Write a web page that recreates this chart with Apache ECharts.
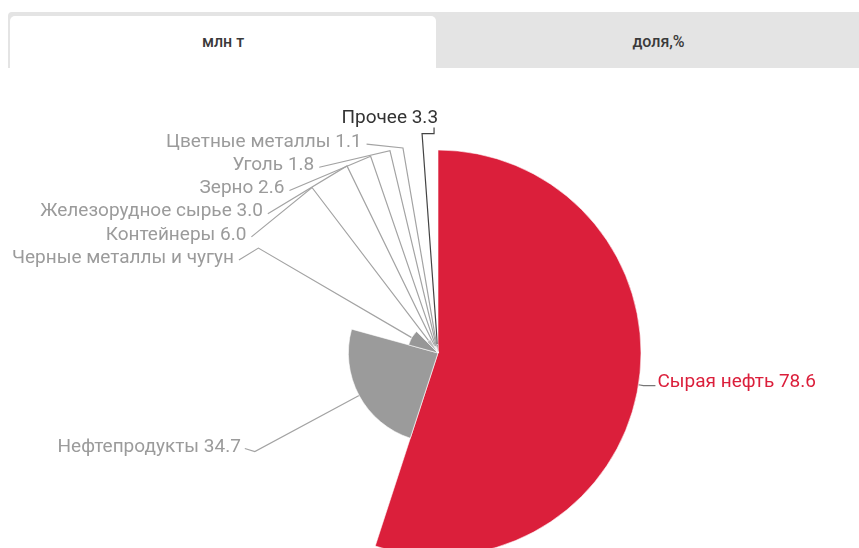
<!DOCTYPE html>
<html>
<head>
<meta charset="utf-8">
<script src="https://cdn.jsdelivr.net/npm/echarts@6/dist/echarts.min.js"></script>
<style>
  html, body { margin: 0; padding: 0; width: 859px; height: 548px; overflow: hidden; background: #fff; font-family: Roboto, "Noto Sans", sans-serif; }
  #chart { position: absolute; left: 0; top: 0; width: 859px; height: 548px; }
  .tabs { position: absolute; left: 8px; top: 12px; width: 851px; height: 56px; background: #e4e4e4; border-radius: 4px 0 0 0; overflow: hidden; }
  .tab { position: absolute; top: 4px; height: 52px; line-height: 52px; text-align: center; font-size: 16px; font-weight: 500; color: #3a3a3a; }
  .tab.active { left: 2px; width: 426px; background: #fff; border-radius: 5px 5px 0 0; }
  .tab.other { left: 428px; width: 445px; }
</style>
</head>
<body>
<div id="chart"></div>
<div class="tabs">
  <div class="tab active">млн т</div>
  <div class="tab other">доля,%</div>
</div>
<script>
// Cargo handled, million tonnes
const categories = ['Сырая нефть', 'Нефтепродукты', 'Черные металлы и чугун', 'Контейнеры',
  'Железорудное сырье', 'Зерно', 'Уголь', 'Цветные металлы', 'Прочее'];
const volumes = [78.6, 34.7, 11.8, 6.0, 3.0, 2.6, 1.8, 1.1, 3.3];
// whether the value is printed after the name
const showValue = [true, true, false, true, true, true, true, true, true];

// palette
const sliceColors = ['#db1f3b', '#9b9b9b', '#979797', '#bdbdbd', '#bdbdbd', '#bdbdbd', '#bdbdbd', '#bdbdbd', '#555555'];
const labelColors = ['#db1f3b', '#9b9b9b', '#9b9b9b', '#9b9b9b', '#9b9b9b', '#9b9b9b', '#9b9b9b', '#9b9b9b', '#333333'];
const lineColors = ['#777777', '#a3a3a3', '#a3a3a3', '#a3a3a3', '#a3a3a3', '#a3a3a3', '#a3a3a3', '#a3a3a3', '#444444'];

// geometry of the rose
const CX = 438, CY = 353, R_MAX = 203;
const ELBOW_R = 208;          // radius where leader lines bend
const LABEL_RX = 220, LABEL_RY = 223; // ellipse the stacked labels hug
const ROW_H = 23.2;           // spacing of stacked labels
const FONT = 19;

const total = volumes.reduce((a, b) => a + b, 0);
const maxVal = Math.max.apply(null, volumes);

function geom(i) {
  let acc = 0;
  for (let j = 0; j < i; j++) acc += volumes[j];
  const mid = (acc + volumes[i] / 2) / total * Math.PI * 2;
  return { s: Math.sin(mid), c: Math.cos(mid), r: volumes[i] / maxVal * R_MAX };
}
function at(g, rad) { return [CX + g.s * rad, CY - g.c * rad]; }

const firstStacked = 2, lastStacked = 7;

function layoutLabel(p) {
  const i = p.dataIndex;
  const g = geom(i);
  const edge = at(g, g.r);
  const elbow = at(g, Math.max(ELBOW_R, g.r + 5));
  if (g.s > 0) {
    const end = [elbow[0] + 12, elbow[1]];
    return { x: end[0] + 2, y: end[1] - 3, align: 'left', verticalAlign: 'middle', labelLinePoints: [edge, elbow, end] };
  }
  if (i >= firstStacked && i <= lastStacked) {
    const base = at(geom(firstStacked), ELBOW_R)[1] + 10;
    const y = base - (i - firstStacked) * ROW_H;
    const dy = (CY - y) / LABEL_RY;
    const ax = CX - LABEL_RX * Math.sqrt(Math.max(0, 1 - dy * dy));
    const end = [ax, y + 2];
    return { x: ax - 5, y: y, align: 'right', verticalAlign: 'middle', labelLinePoints: [edge, elbow, end] };
  }
  if (i === categories.length - 1) {
    const top = at(g, LABEL_RX);
    const hook = [top[0] + 12, top[1]];
    const tick = [top[0] + 12, top[1] - 6];
    return { x: top[0] + 16, y: top[1] - 15, align: 'right', verticalAlign: 'middle', labelLinePoints: [edge, top, hook, tick] };
  }
  const end = [elbow[0] - 10, elbow[1] - 3];
  return { x: end[0] - 4, y: end[1] - 1, align: 'right', verticalAlign: 'middle', labelLinePoints: [edge, elbow, end] };
}

const seriesData = categories.map((name, i) => ({
  name: name,
  value: volumes[i],
  itemStyle: { color: sliceColors[i] },
  label: { color: labelColors[i] },
  labelLine: { lineStyle: { color: lineColors[i] } }
}));

const chart = echarts.init(document.getElementById('chart'), null, { renderer: 'canvas' });
chart.setOption({
  animation: false,
  series: [{
    type: 'pie',
    roseType: 'radius',
    center: [CX, CY],
    radius: [0, R_MAX],
    startAngle: 90,
    clockwise: true,
    avoidLabelOverlap: false,
    itemStyle: { borderColor: '#ffffff', borderWidth: 0.6 },
    label: {
      show: true,
      fontFamily: 'Roboto',
      fontSize: FONT,
      overflow: 'none',
      formatter: p => showValue[p.dataIndex] ? p.name + ' ' + p.value.toFixed(1) : p.name
    },
    labelLine: { show: true, length: 10, length2: 10, lineStyle: { width: 1.2 } },
    labelLayout: layoutLabel,
    emphasis: { disabled: true },
    data: seriesData
  }]
});
</script>
</body>
</html>
